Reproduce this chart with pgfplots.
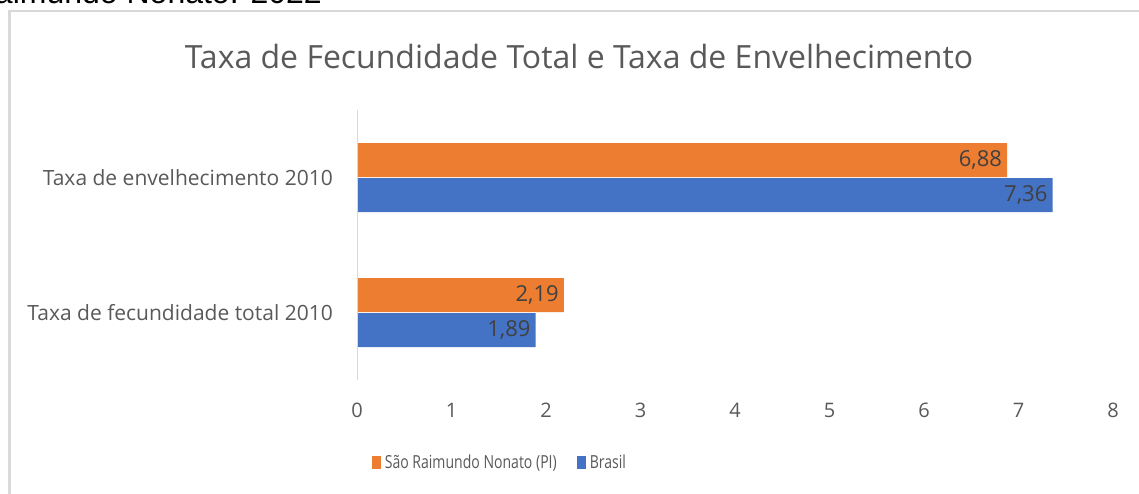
\documentclass[border=0pt]{standalone}
\usepackage{fontspec}
\setmainfont{Open Sans}
\newfontfamily\arialfont{Liberation Sans}
\newfontfamily\condfont[FakeStretch=0.78]{Open Sans}
\usepackage{pgfplots}
\pgfplotsset{compat=1.18}
\definecolor{orng}{HTML}{ED7D31}
\definecolor{blu}{HTML}{4472C4}
\definecolor{txt}{HTML}{595959}
\definecolor{dtxt}{HTML}{404040}
\definecolor{brd}{HTML}{D9D9D9}
\begin{document}
\begin{tikzpicture}[x=1pt,y=1pt]
\draw[brd, line width=2.5pt] (9.5,-10) -- (9.5,482) -- (1150,482);
\node[anchor=base east, font=\arialfont\fontsize{32}{36}\selectfont, inner sep=0] at (322,489) {São Raimundo Nonato. 2022};
\node[font=\fontsize{32}{36}\selectfont, text=txt] at (579,436) {Taxa de Fecundidade Total e Taxa de Envelhecimento};
\begin{axis}[
  at={(357pt,113pt)}, anchor=south west,
  width=756pt, height=270pt, scale only axis,
  xbar, bar width=34pt,
  xmin=0, xmax=8, ymin=-0.5, ymax=1.5,
  xtick={0,1,2,3,4,5,6,7,8}, ytick={0,1},
  yticklabels={Taxa de fecundidade total 2010, Taxa de envelhecimento 2010},
  axis line style={draw=none},
  tick style={draw=none}, major tick length=0pt,
  /pgf/number format/assume math mode=true,
  ticklabel style={text=txt},
  xticklabel style={anchor=center, yshift=-30pt, inner sep=0pt, font=\fontsize{20}{24}\selectfont},
  yticklabel style={anchor=east, xshift=-24pt, inner sep=0pt, font=\fontsize{21}{24}\selectfont},
  point meta=x,
  nodes near coords={\pgfmathprintnumber[fixed,fixed zerofill,precision=2,use comma]{\pgfplotspointmeta}},
  every node near coord/.append style={anchor=east, xshift=-5pt, inner sep=0pt, font=\fontsize{22}{26}\selectfont, text=dtxt},
  legend style={at={(0.189,-0.307)}, anchor=center, draw=none, fill=none, legend columns=2,
    font=\condfont\fontsize{18}{22}\selectfont, text=txt,
    /tikz/every even column/.append style={column sep=18pt}},
  legend image code/.code={\fill[#1] (0pt,-6.5pt) rectangle (9pt,6.5pt); \path (11pt,0pt);},
]
\addplot[fill=orng, draw=none, bar shift=17.5pt] coordinates {(2.19,0) (6.88,1)};
\addplot[fill=blu, draw=none, bar shift=-17.5pt] coordinates {(1.89,0) (7.36,1)};
\legend{São Raimundo Nonato (PI), Brasil}
\draw[brd, line width=2.5pt] (axis cs:0,-0.5) -- (axis cs:0,1.5);
\end{axis}
\pgfresetboundingbox
\useasboundingbox (0,0) rectangle (1139,493);
\end{tikzpicture}
\end{document}
